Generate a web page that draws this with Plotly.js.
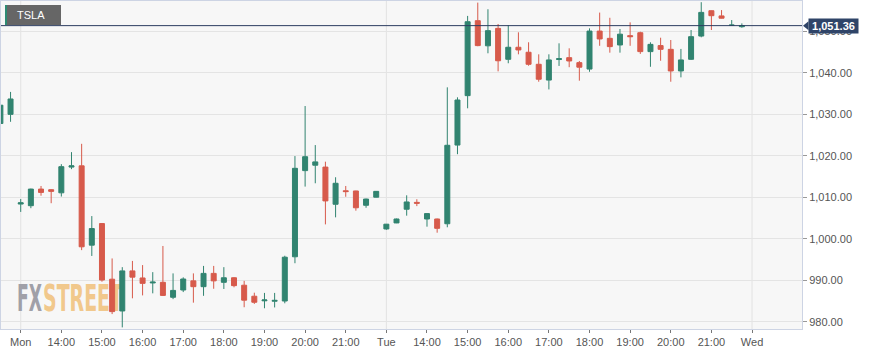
<!DOCTYPE html>
<html><head><meta charset="utf-8">
<script src="https://cdn.plot.ly/plotly-3.0.1.min.js"></script>
<style>html,body{margin:0;padding:0;background:#fff}#chart{width:873px;height:354px}</style>
</head><body><div id="chart"></div>
<script>
const symbol = 'TSLA';
const lastPrice = 1051.36;
const lastPriceText = '1,051.36';

const times = [
 'Fri 21:30','Fri 21:45',
 'Mon 13:00','Mon 13:15','Mon 13:30','Mon 13:45','Mon 14:00','Mon 14:15','Mon 14:30','Mon 14:45',
 'Mon 15:00','Mon 15:15','Mon 15:30','Mon 15:45','Mon 16:00','Mon 16:15','Mon 16:30','Mon 16:45',
 'Mon 17:00','Mon 17:15','Mon 17:30','Mon 17:45','Mon 18:00','Mon 18:15','Mon 18:30','Mon 18:45',
 'Mon 19:00','Mon 19:15','Mon 19:30','Mon 19:45','Mon 20:00','Mon 20:15','Mon 20:30','Mon 20:45',
 'Mon 21:00','Mon 21:15','Mon 21:30','Mon 21:45',
 'Tue 13:00','Tue 13:15','Tue 13:30','Tue 13:45','Tue 14:00','Tue 14:15','Tue 14:30','Tue 14:45',
 'Tue 15:00','Tue 15:15','Tue 15:30','Tue 15:45','Tue 16:00','Tue 16:15','Tue 16:30','Tue 16:45',
 'Tue 17:00','Tue 17:15','Tue 17:30','Tue 17:45','Tue 18:00','Tue 18:15','Tue 18:30','Tue 18:45',
 'Tue 19:00','Tue 19:15','Tue 19:30','Tue 19:45','Tue 20:00','Tue 20:15','Tue 20:30','Tue 20:45',
 'Tue 21:00','Tue 21:15','Tue 21:30','Tue 21:45'
];
const open = [1027.8,1030.0,1008.4,1008.0,1012.0,1011.85,1011.1,1017.3,1017.6,998.5,1003.7,990.3,982.65,992.3,990.6,989.4,989.55,985.95,987.7,989.9,988.5,991.7,989.55,990.65,988.85,986.2,985.1,985.0,985.05,995.7,1016.45,1017.75,1017.3,1008.35,1011.6,1011.55,1008.1,1010.05,1002.4,1003.85,1007.15,1008.8,1004.8,1004.8,1003.65,1022.6,1034.5,1052.55,1046.5,1050.7,1043.25,1046.15,1044.95,1042.05,1038.25,1043.2,1043.65,1042.45,1040.9,1050.05,1048.3,1046.7,1048.95,1049.65,1045.1,1046.55,1045.65,1040.45,1043.25,1048.85,1054.95,1053.7,1051.4,1051.1];
const high = [1032.4,1035.4,1009.6,1012.1,1012.75,1011.95,1018.0,1020.9,1022.9,1005.5,1003.8,995.3,993.2,994.7,993.7,992.0,998.3,991.7,990.75,991.7,993.5,993.5,993.2,990.8,989.9,987.05,987.0,987.0,995.95,1019.95,1032.0,1022.6,1018.6,1014.85,1012.75,1011.6,1009.7,1011.5,1003.6,1004.9,1010.5,1009.55,1006.1,1004.9,1036.5,1034.1,1053.7,1056.9,1055.3,1051.75,1051.5,1049.75,1047.35,1044.45,1044.45,1047.1,1045.9,1042.85,1050.7,1054.5,1053.25,1050.55,1052.15,1049.9,1047.35,1048.45,1047.9,1045.75,1050.3,1057.0,1055.0,1055.1,1052.7,1051.9];
const low = [1027.4,1028.2,1006.5,1007.4,1010.4,1008.6,1010.2,1016.8,997.3,995.9,989.7,981.9,978.7,985.7,986.4,986.9,986.25,985.5,987.2,984.65,986.3,988.0,987.95,988.35,983.55,984.35,983.3,983.5,984.5,994.15,1012.6,1013.4,1003.5,1005.2,1010.15,1006.8,1007.5,1010.0,1002.2,1003.8,1005.6,1007.9,1002.95,1001.5,1002.8,1020.4,1031.45,1046.4,1044.7,1040.35,1042.3,1044.45,1041.7,1037.85,1036.0,1041.65,1041.35,1038.1,1040.25,1046.5,1044.85,1044.85,1046.5,1044.55,1041.45,1042.9,1037.85,1038.9,1043.1,1048.55,1050.3,1053.1,1051.3,1050.85];
const close = [1032.2,1033.7,1008.7,1012.0,1011.2,1011.45,1017.4,1017.6,998.1,1002.5,990.1,982.5,992.3,990.8,989.3,989.6,986.4,987.6,990.35,988.5,991.7,989.9,990.65,988.75,985.25,984.75,985.3,985.2,995.6,1017.0,1019.8,1018.55,1009.15,1013.4,1011.4,1007.5,1009.6,1011.45,1003.55,1004.8,1008.9,1008.6,1006.1,1002.55,1022.55,1033.45,1052.3,1046.55,1050.15,1042.9,1046.15,1045.5,1042.05,1038.45,1043.1,1043.4,1042.85,1041.35,1050.05,1048.15,1046.3,1049.3,1048.7,1045.1,1046.85,1045.65,1040.45,1043.1,1048.7,1054.55,1053.75,1053.15,1051.5,1051.36];

const tickTimes = ['Mon 13:00','Mon 14:00','Mon 15:00','Mon 16:00','Mon 17:00','Mon 18:00','Mon 19:00','Mon 20:00','Mon 21:00',
                   'Tue 13:00','Tue 14:00','Tue 15:00','Tue 16:00','Tue 17:00','Tue 18:00','Tue 19:00','Tue 20:00','Tue 21:00','Wed 13:00'];
const tickText  = ['Mon','14:00','15:00','16:00','17:00','18:00','19:00','20:00','21:00',
                   'Tue','14:00','15:00','16:00','17:00','18:00','19:00','20:00','21:00','Wed'];
const dayTimes = ['Mon 13:00','Tue 13:00','Wed 13:00'];
const yTicks = [980,990,1000,1010,1020,1030,1040,1050];

const W = 873, H = 354, M = {l:1, r:71, t:1, b:25};
const PW = W - M.l - M.r, PH = H - M.t - M.b;
const px = v => (v - M.l) / PW;
const py = v => 1 - (v - M.t) / PH;
const slot = t => { const i = times.indexOf(t); return i >= 0 ? i : times.length; };
const xs = times.map((t, i) => i);
const yRange = [978.31, 1057.29];
const xRange = [0.06, 78.92];
const yp = v => (v - yRange[0]) / (yRange[1] - yRange[0]);

const GREEN = '#318470', RED = '#d75a4b';
const FONT = '"Liberation Sans", Arial, sans-serif';
const axisLine = '#cdd4e4';

const trace = {
  type: 'candlestick', x: xs, open: open, high: high, low: low, close: close,
  increasing: {line: {color: GREEN, width: 1}, fillcolor: GREEN},
  decreasing: {line: {color: RED, width: 1}, fillcolor: RED},
  whiskerwidth: 0, hoverinfo: 'none', showlegend: false
};

const shapes = [];
dayTimes.forEach(t => shapes.push({type:'line', xref:'x', yref:'paper', x0:slot(t), x1:slot(t), y0:0, y1:1,
  line:{color:'#e3e3e3', width:1}, layer:'below'}));
// watermark
shapes.push({type:'rect', xref:'paper', yref:'paper', x0:px(14), x1:px(42), y0:py(310), y1:py(280),
  line:{width:0}, fillcolor:'rgba(0,0,0,0)', layer:'below',
  label:{text:'FX', textposition:'middle left', padding:0, font:{family:'"Liberation Sans Narrow", "DejaVu Sans Condensed", sans-serif', size:37, weight:'bold', color:'#a0a0a8'}}});
shapes.push({type:'rect', xref:'paper', yref:'paper', x0:px(40), x1:px(125), y0:py(310), y1:py(280),
  line:{width:0}, fillcolor:'rgba(0,0,0,0)', layer:'below',
  label:{text:'STREET', textposition:'middle left', padding:0, font:{family:'"Liberation Sans Narrow", "DejaVu Sans Condensed", sans-serif', size:37, weight:'bold', color:'#f1c88c'}}});
// last price line
shapes.push({type:'line', xref:'paper', yref:'y', x0:0, x1:1, y0:lastPrice, y1:lastPrice, line:{color:'#2c3d60', width:1}});
// price label pointer
const yl = yp(lastPrice), d = 4.5 / PH;
shapes.push({type:'path', xref:'paper', yref:'paper', fillcolor:'#2f4468', line:{width:0},
  path:`M ${px(803)},${yl} L ${px(808.5)},${yl + d} L ${px(808.5)},${yl - d} Z`});
// symbol tag
shapes.push({type:'rect', xref:'paper', yref:'paper', x0:px(5), x1:px(61), y0:py(25), y1:py(5), fillcolor:'#666666', line:{width:0}});
shapes.push({type:'rect', xref:'paper', yref:'paper', x0:px(5), x1:px(7), y0:py(25), y1:py(5), fillcolor:'#2e8b73', line:{width:0}});

const annotations = [
  {xref:'paper', yref:'paper', x:px(15), y:py(15.5), xanchor:'left', yanchor:'middle', showarrow:false,
   text:symbol, font:{family:FONT, size:11, color:'#ffffff'}},
  {xref:'paper', yref:'y', x:1, y:lastPrice, xanchor:'left', yanchor:'middle', xshift:6, showarrow:false,
   text:lastPriceText, width:49, height:14, bgcolor:'#2f4468', borderpad:0,
   font:{family:FONT, size:11, color:'#ffffff', weight:'bold'}}
];

const layout = {
  width: W, height: H, margin: M,
  paper_bgcolor: '#ffffff', plot_bgcolor: '#f7f7f7',
  font: {family: FONT, size: 11, color: '#555555'},
  showlegend: false, dragmode: false,
  xaxis: {type:'linear', range:xRange, tickvals: tickTimes.map(slot), ticktext: tickText,
    ticks:'outside', ticklen:3, tickcolor:'#777777', showgrid:false, zeroline:false,
    showline:true, linecolor:axisLine, mirror:true, rangeslider:{visible:false},
    tickfont:{family:FONT, size:11, color:'#555555'}, fixedrange:true},
  yaxis: {side:'right', range:yRange, tickvals:yTicks, tickformat:',.2f',
    ticks:'outside', ticklen:4, tickcolor:'#999999', showgrid:true, gridcolor:'#e4e4e4',
    zeroline:false, showline:true, linecolor:axisLine, mirror:true,
    tickfont:{family:FONT, size:11, color:'#555555'}, fixedrange:true},
  shapes: shapes, annotations: annotations
};

Plotly.newPlot('chart', [trace], layout, {displayModeBar:false, staticPlot:true}).then(() => {
  document.querySelectorAll('#chart text').forEach(t => {
    if (t.textContent === 'FX') { t.setAttribute('textLength', 25); t.setAttribute('lengthAdjust', 'spacingAndGlyphs'); }
    if (t.textContent === 'STREET') { t.setAttribute('textLength', 80); t.setAttribute('lengthAdjust', 'spacingAndGlyphs'); }
  });
});
</script></body></html>
